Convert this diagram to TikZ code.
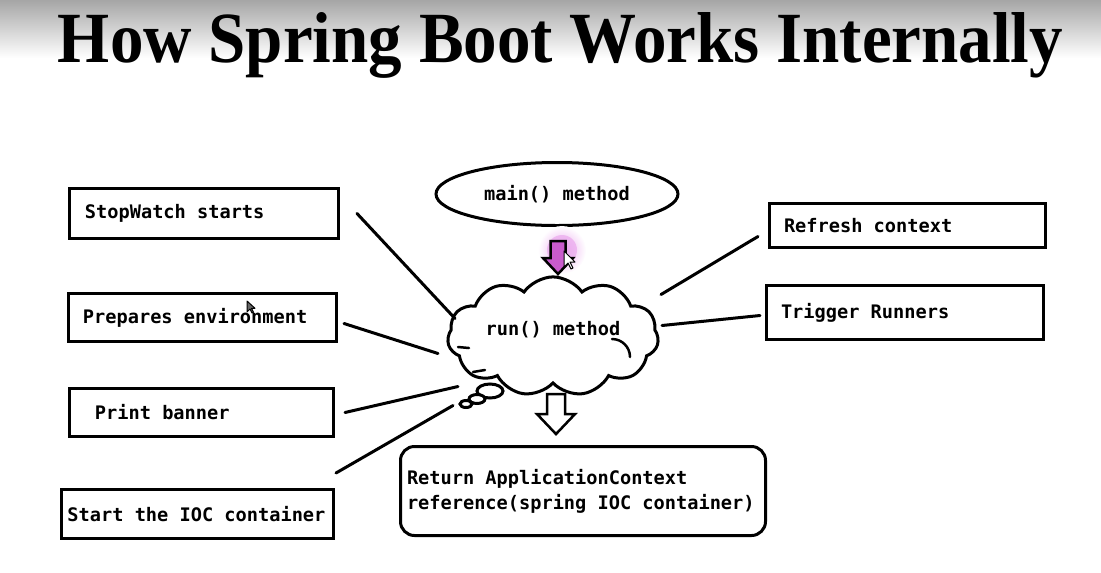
\documentclass[tikz,border=0pt]{standalone}
\usepackage{fontspec}
\setmainfont{Liberation Serif}
\setmonofont{DejaVu Sans Mono}[WordSpace={1,0,0}]
\usepackage{tikz}
\usetikzlibrary{calc,positioning,shapes.geometric,shapes.symbols}
\definecolor{glow}{HTML}{EBA8EE}
\definecolor{pick}{HTML}{C95BCC}
\newcommand{\monotext}{\ttfamily\bfseries\fontsize{10.6}{14.2}\selectfont}

\begin{document}
\begin{tikzpicture}[x=0.2mm,y=-0.2mm, every node/.style={font=\monotext},
  stepbox/.style={draw,line width=0.6mm,align=flush left,inner ysep=0pt},
  bubble/.style={draw,ellipse,line width=0.6mm,fill=white,inner sep=0pt},
  link/.style={line width=0.6mm,line cap=round},
  crease/.style={line width=0.5mm,line cap=round},
  blockarrow/.style={draw,line width=0.5mm,line join=miter},
  pointer/.style={line width=0.2mm,line join=round}]
  \useasboundingbox (0,0) rectangle (1101,572);
  \shade[top color=black!35,bottom color=white] (0,0) rectangle (1101,58);
  \node[font=\rmfamily\bfseries,anchor=base,inner sep=0pt] (title) at (560.5,62) {\resizebox{201mm}{10mm}{How Spring Boot Works Internally}};
  % left column
  \node[stepbox,text width=47.6mm,inner xsep=3.1mm,minimum height=10mm] (sw) at (204,213.5) {StopWatch starts};
  \node[stepbox,text width=47.8mm,inner xsep=2.9mm,minimum height=9.6mm] (pe) at (202.5,317.5) {Prepares environment};
  \node[stepbox,text width=42.6mm,inner xsep=5.1mm,minimum height=9.6mm] (pb) at (201.5,412.5) {Print banner};
  \node[stepbox,text width=52mm,inner xsep=1.2mm,minimum height=9.8mm] (ioc) at (197.5,514) {Start the IOC container};
  % right column
  \node[stepbox,text width=49.4mm,inner xsep=2.9mm,minimum height=8.8mm] (rc) at (907.5,225.5) {Refresh context};
  \node[stepbox,text width=49.6mm,inner xsep=2.9mm,minimum height=10.8mm] (tr) at (905,312.5) {Trigger Runners};
  % middle
  \node[draw,ellipse,line width=0.6mm,inner sep=0pt,minimum width=48.4mm,minimum height=12.6mm] (main) at (557,194) {main() method\hspace{4.4mm}};
  \node[cloud,draw,line width=0.6mm,cloud puffs=11,cloud puff arc=110,aspect=2,inner sep=0pt,
    minimum width=42.2mm,minimum height=18.6mm] (run) at (553,336.5) {\raisebox{3.4mm}{run() method}};
  \draw[crease] ($(run.center)+(59,2.5)$) arc (270:360:18);
  \draw[crease] ($(run.center)+(-95,10.5)$) -- ++(11,1);
  \draw[crease] ($(run.center)+(-68,33.5)$) -- ++(-12,2);
  \node[bubble,minimum width=5.2mm,minimum height=2.8mm] (b1) at ($(run.center)+(-63,54.5)$) {};
  \node[bubble,minimum width=3.2mm,minimum height=1.8mm] (b2) at ($(run.center)+(-76,62.5)$) {};
  \node[bubble,minimum width=2.4mm,minimum height=1.4mm] (b3) at ($(run.center)+(-87,67.5)$) {};
  \node[stepbox,rounded corners=2.8mm,text width=70.4mm,inner xsep=1.3mm,minimum height=17.8mm] (ret) at (583,491) {Return ApplicationContext\\reference(spring IOC container)};
  % block arrows
  \shade[inner color=glow,outer color=white] (562,250) circle (24);
  \fill[glow,opacity=0.7] (562,250) circle (15);
  \coordinate (a1) at ($(main.south)+(1,14)$);
  \draw[blockarrow,fill=pick] (a1) ++(-7.5,0) -- ++(15,0) -- ++(0,17) -- ++(7.5,0) -- ++(-15,16) -- ++(-15,-16) -- ++(7.5,0) -- cycle;
  \coordinate (a2) at ($(run.south)+(3,9)$);
  \draw[blockarrow,fill=white] (a2) ++(-9,0) -- ++(18,0) -- ++(0,20) -- ++(10,0) -- ++(-19,20) -- ++(-19,-20) -- ++(10,0) -- cycle;
  % mouse pointers
  \draw[pointer,fill=white] (564,251) -- ++(0,16) -- ++(4,-4) -- ++(3,6) -- ++(2,-1) -- ++(-3,-6) -- ++(5,0) -- cycle;
  \draw[pointer,fill=black!60] (247,301) -- ++(0,11) -- ++(3,-3) -- ++(2,4) -- ++(1.5,-0.7) -- ++(-2,-4) -- ++(3.5,0) -- cycle;
  % spokes
  \draw[link] ($(sw.east)+(17,0)$) -- ($(run.center)+(-98,-18)$);
  \draw[link] ($(pe.east)+(6,6)$) -- ($(run.center)+(-115,17)$);
  \draw[link] ($(pb.east)+(10,0)$) -- ($(run.center)+(-95,50)$);
  \draw[link] ($(ioc.north east)+(1,-15)$) -- ($(run.center)+(-100,69)$);
  \draw[link] ($(rc.west)+(-10,11)$) -- ($(run.center)+(108,-42)$);
  \draw[link] ($(tr.west)+(-5,3)$) -- ($(run.center)+(109,-11)$);
\end{tikzpicture}
\end{document}
